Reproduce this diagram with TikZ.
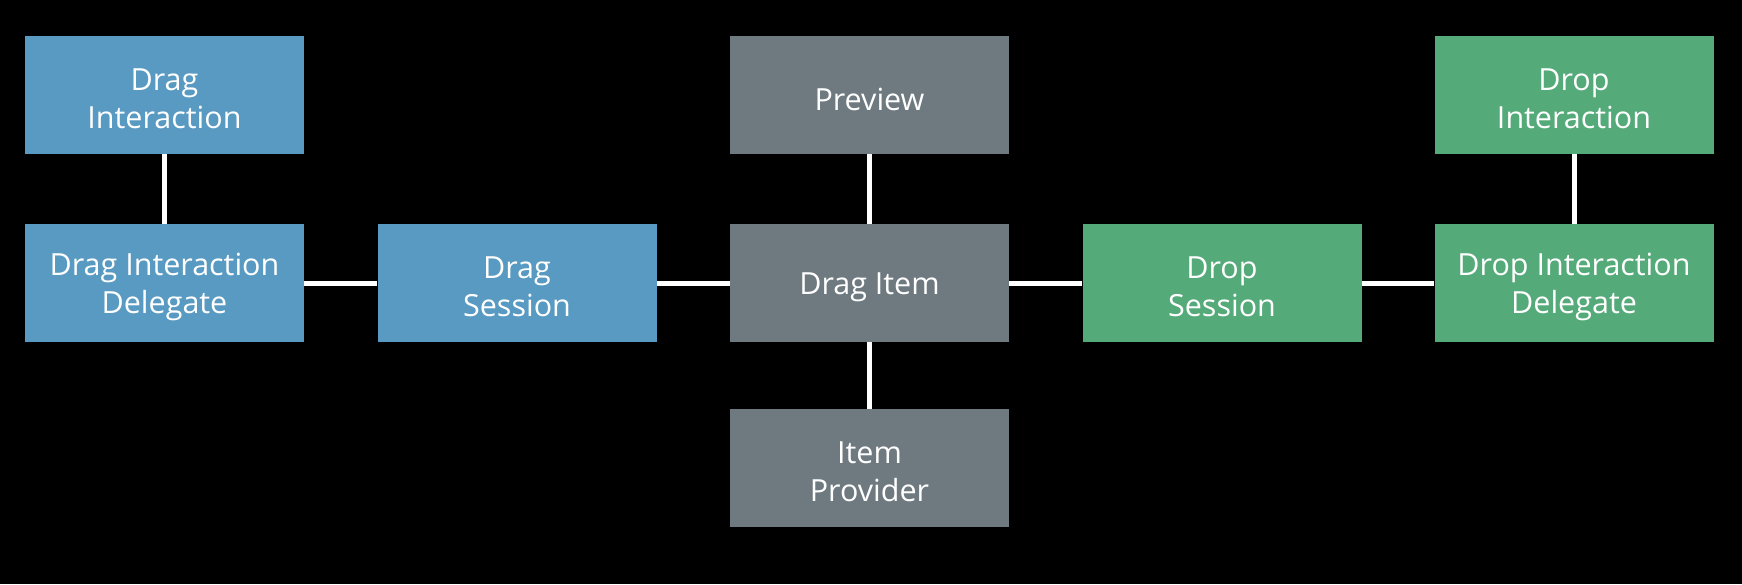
\documentclass[tikz,border=0pt]{standalone}
\usepackage{fontspec}
\setmainfont{Open Sans}
\definecolor{dragblue}{RGB}{88,154,193}
\definecolor{itemgray}{RGB}{110,122,128}
\definecolor{dropgreen}{RGB}{85,170,122}
\begin{document}
\begin{tikzpicture}[x=1pt,y=-1pt,
  box/.style={minimum width=279pt,minimum height=118pt,inner sep=0pt},
  txt/.style={text=white,align=center,inner sep=0pt,yshift=-4pt,
    font=\fontsize{30.5}{38}\selectfont},
  blue/.style={box,fill=dragblue,label={[txt]center:{#1}}},
  gray/.style={box,fill=itemgray,label={[txt]center:{#1}}},
  green/.style={box,fill=dropgreen,label={[txt]center:{#1}}},
  link/.style={draw=white,line width=5pt}]
\fill[black] (0,0) rectangle (1742,584);
\useasboundingbox (0,0) rectangle (1742,584);
\node[blue={Drag\\Interaction}] (di) at (164.5,95) {};
\node[blue={Drag Interaction\\Delegate}] (did) at (164.5,283) {};
\node[blue={Drag\\Session}] (ds) at (517,283) {};
\node[gray={Preview}] (pv) at (869.5,95) {};
\node[gray={Drag Item}] (item) at (869.5,283) {};
\node[gray={Item\\Provider}] (ip) at (869.5,468) {};
\node[green={Drop\\Session}] (dps) at (1222,283) {};
\node[green={Drop Interaction\\Delegate}] (dpid) at (1574,283) {};
\node[green={Drop\\Interaction}] (dpi) at (1574,95) {};
\draw[link] (di) -- (did);
\draw[link] (did) -- (ds);
\draw[link] (ds) -- (item);
\draw[link] (pv) -- (item);
\draw[link] (item) -- (ip);
\draw[link] (item) -- (dps);
\draw[link] (dps) -- (dpid);
\draw[link] (dpi) -- (dpid);
\end{tikzpicture}
\end{document}
